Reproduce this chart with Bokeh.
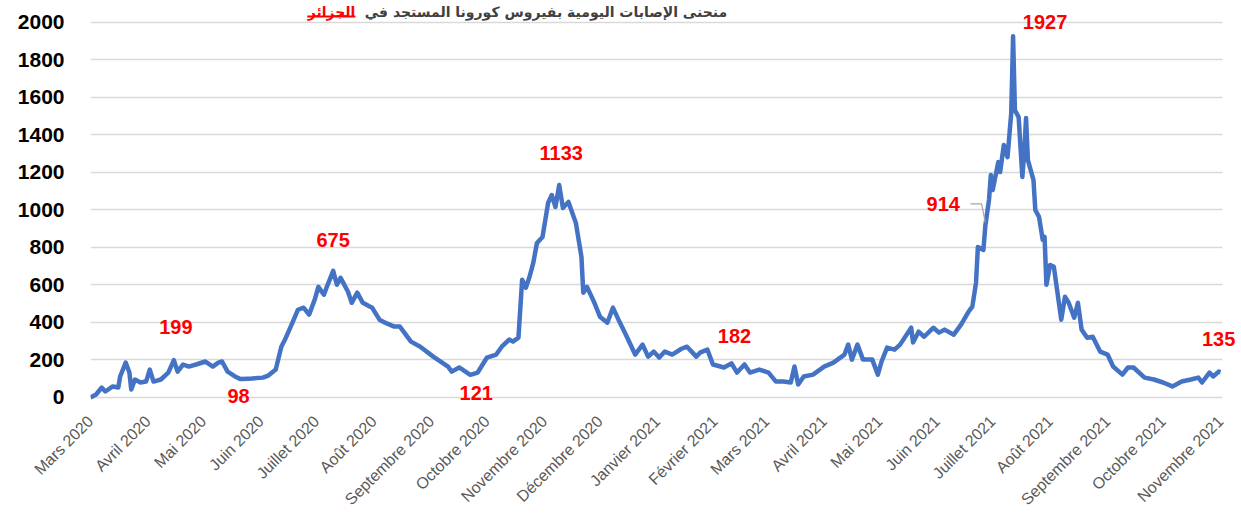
import math
import pandas as pd
from bokeh.plotting import figure
from bokeh.models import Label, FixedTicker, Range1d, BoxAnnotation
from bokeh.embed import file_html
from bokeh.resources import INLINE

# ---------------- data ----------------
start_date = "2020-03-01"

month_labels = ["Mars 2020", "Avril 2020", "Mai 2020", "Juin 2020", "Juillet 2020",
                "Août 2020", "Septembre 2020", "Octobre 2020", "Novembre 2020",
                "Décembre 2020", "Janvier 2021", "Février 2021", "Mars 2021",
                "Avril 2021", "Mai 2021", "Juin 2021", "Juillet 2021", "Août 2021",
                "Septembre 2021", "Octobre 2021", "Novembre 2021"]

y_ticks = [0, 200, 400, 600, 800, 1000, 1200, 1400, 1600, 1800, 2000]

# day offset since 2020-03-01
days = [0, 3, 6, 8, 12, 15, 16, 19, 21, 22,
        24, 27, 30, 32, 34, 38, 42, 45, 47, 50,
        53, 57, 62, 66, 69, 71, 74, 78, 81, 85,
        87, 93, 96, 100, 103, 105, 109, 112, 115, 118,
        121, 123, 126, 128, 131, 133, 135, 139, 141, 144,
        147, 152, 156, 159, 164, 167, 173, 178, 185, 193,
        195, 199, 205, 209, 214, 219, 222, 226, 228, 231,
        233, 235, 237, 239, 241, 244, 247, 249, 251, 253,
        255, 258, 262, 265, 266, 268, 272, 275, 279, 282,
        285, 289, 294, 298, 301, 304, 307, 310, 314, 319,
        322, 327, 329, 333, 336, 342, 346, 349, 353, 356,
        361, 366, 370, 374, 378, 380, 382, 385, 390, 396,
        401, 407, 409, 411, 414, 417, 422, 425, 427, 430,
        434, 437, 443, 444, 447, 450, 455, 458, 461, 466,
        470, 474, 476, 478, 479, 482, 483, 485, 486, 487,
        490, 491, 493, 495, 497, 498, 499, 501, 503, 504,
        505, 506, 509, 510, 512, 514, 515, 516, 518, 520,
        524, 526, 528, 531, 533, 535, 538, 541, 545, 549,
        552, 557, 560, 563, 569, 574, 579, 584, 589, 594,
        598, 600, 604, 606, 609, 610]

cases = [0, 16, 53, 32, 59, 53, 112, 186, 133, 43,
         96, 80, 85, 149, 85, 96, 133, 199, 138, 176,
         165, 176, 192, 165, 186, 192, 138, 112, 98, 100,
         101, 106, 117, 149, 271, 309, 399, 468, 479, 442,
         521, 590, 548, 601, 675, 601, 638, 564, 505, 559,
         505, 479, 415, 399, 378, 378, 298, 271, 218, 165,
         138, 160, 121, 133, 213, 229, 271, 309, 298, 319,
         628, 585, 644, 718, 824, 856, 1037, 1080, 1016, 1133,
         1011, 1043, 931, 750, 559, 590, 505, 431, 399, 479,
         415, 335, 229, 282, 218, 245, 213, 245, 229, 260,
         271, 218, 239, 255, 176, 160, 182, 133, 176, 133,
         149, 133, 85, 85, 80, 165, 69, 112, 122, 165,
         186, 229, 282, 202, 282, 202, 202, 122, 192, 266,
         255, 282, 372, 293, 351, 324, 372, 346, 362, 335,
         390, 458, 484, 612, 803, 787, 914, 1053, 1186, 1106,
         1255, 1202, 1346, 1282, 1516, 1927, 1532, 1495, 1176, 1303,
         1490, 1266, 1160, 1000, 963, 841, 856, 601, 707, 697,
         415, 537, 505, 426, 505, 362, 319, 324, 245, 229,
         165, 122, 160, 160, 106, 96, 80, 59, 85, 96,
         106, 80, 133, 112, 138, 135]

assert len(days) == len(cases)

# annotated points (days) and their label offsets in screen pixels
annot_days = [45, 81, 131, 205, 253, 346, 483, 498, 610]
annot_dx = [2, -2, 0, 6, 2, 3, -42, 32, -2]
annot_dy = [33, -17, 31, -18, 32, 27, 22, 14, 33]

title_main = "منحنى الإصابات اليومية بفيروس كورونا المستجد في"
title_red = "الجزائر"

# ---------------- figure ----------------
start = pd.Timestamp(start_date)
month_ticks = [(d - start).days for d in
               pd.date_range(start_date, periods=len(month_labels), freq="MS")]
last_day = days[-1] + 1

p = figure(width=1241, height=517, output_backend="svg", toolbar_location=None,
           x_range=Range1d(0, 621.3), y_range=Range1d(-64, 2117),
           min_border_left=90, min_border_right=0, min_border_top=0, min_border_bottom=107)
p.outline_line_color = None
p.background_fill_color = "white"
p.border_fill_color = "white"

# y axis
p.yaxis.ticker = FixedTicker(ticks=y_ticks)
p.yaxis.axis_line_color = None
p.yaxis.major_tick_line_color = None
p.yaxis.minor_tick_line_color = None
p.yaxis.major_label_text_font = "Liberation Sans"
p.yaxis.major_label_text_font_style = "bold"
p.yaxis.major_label_text_font_size = "21px"
p.yaxis.major_label_text_color = "black"
p.yaxis.major_label_standoff = 20

# x axis
p.xaxis.ticker = FixedTicker(ticks=month_ticks)
p.xaxis.major_label_overrides = {t: lab for t, lab in zip(month_ticks, month_labels)}
p.xaxis.major_label_orientation = math.pi / 4
p.xaxis.axis_line_color = None
p.xaxis.major_tick_line_color = None
p.xaxis.minor_tick_line_color = None
p.xaxis.major_label_text_font = "Liberation Sans"
p.xaxis.major_label_text_font_size = "16px"
p.xaxis.major_label_text_color = "#595959"
p.xaxis.major_label_standoff = 3

p.xgrid.grid_line_color = None
p.ygrid.ticker = FixedTicker(ticks=y_ticks)
p.ygrid.grid_line_color = "#D9D9D9"
p.ygrid.grid_line_width = 1.5
p.ygrid.cross_bounds = (0, last_day)

p.line(days, cases, line_color="#4472C4", line_width=4.5, line_join="round")

# annotation labels
lookup = dict(zip(days, cases))
annot_vals = [lookup[d] for d in annot_days]
for d, v, dx, dy in zip(annot_days, annot_vals, annot_dx, annot_dy):
    p.add_layout(Label(x=d, y=v, text=str(v), x_offset=dx, y_offset=dy,
                       text_align="center", text_baseline="middle",
                       text_font="Liberation Sans", text_font_style="bold",
                       text_font_size="20px", text_color="#FF0000"))

# leader line for the 914 label
ld = annot_days[6]
lv = annot_vals[6]
p.line([ld - 8, ld - 2, ld], [lv + 118, lv + 118, lv + 20], line_color="#A6A6A6", line_width=1.2)

# title (shrunk to fit at the top edge)
p.add_layout(Label(x=148, y=2058, text=title_main, text_align="left", text_baseline="alphabetic",
                   text_font="DejaVu Sans", text_font_style="bold", text_font_size="14px",
                   text_color="#404040"))
p.add_layout(Label(x=143, y=2058, text=title_red, text_align="right", text_baseline="alphabetic",
                   text_font="DejaVu Sans", text_font_style="bold", text_font_size="14px",
                   text_color="#FF0000"))
p.add_layout(BoxAnnotation(left=117, right=143, bottom=2027, top=2037,
                           fill_color="#FF0000", fill_alpha=1.0, line_color=None))

open("out.html", "w").write(file_html(p, INLINE))
